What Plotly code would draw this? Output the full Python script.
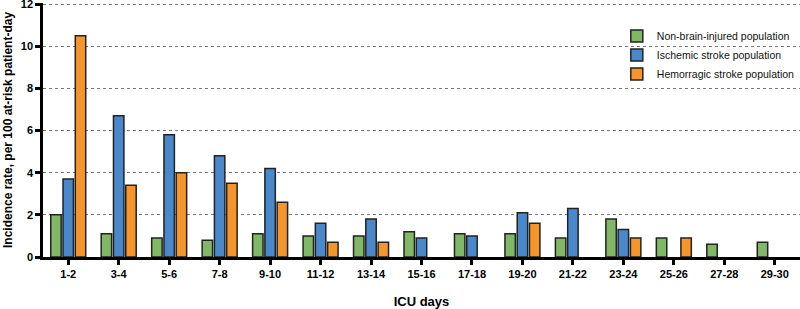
import plotly.graph_objects as go

categories = ["1-2", "3-4", "5-6", "7-8", "9-10", "11-12", "13-14", "15-16",
              "17-18", "19-20", "21-22", "23-24", "25-26", "27-28", "29-30"]
non_brain = [2.0, 1.1, 0.9, 0.8, 1.1, 1.0, 1.0, 1.2, 1.1, 1.1, 0.9, 1.8, 0.9, 0.6, 0.7]
ischemic = [3.7, 6.7, 5.8, 4.8, 4.2, 1.6, 1.8, 0.9, 1.0, 2.1, 2.3, 1.3, None, None, None]
hemorrhagic = [10.5, 3.4, 4.0, 3.5, 2.6, 0.7, 0.7, None, None, 1.6, None, 0.9, 0.9, None, None]
y_ticks = [0, 2, 4, 6, 8, 10, 12]

series = [
    ("Non-brain-injured population", non_brain, "#80B866"),
    ("Ischemic stroke population", ischemic, "#4A88CC"),
    ("Hemorragic stroke population", hemorrhagic, "#F5952A"),
]

FONT = "Liberation Sans, Arial, Helvetica, sans-serif"

fig = go.Figure()
for name, vals, col in series:
    fig.add_trace(go.Bar(
        x=categories, y=vals, name=name,
        marker=dict(color=col, line=dict(color="#222222", width=1.5)),
    ))

fig.update_layout(
    width=800, height=309,
    margin=dict(l=43, r=0, t=3, b=52, autoexpand=False),
    paper_bgcolor="white", plot_bgcolor="white",
    barmode="group", bargap=0.27, bargroupgap=0.15,
    font=dict(family=FONT, color="black"),
    showlegend=True,
    legend=dict(x=0.758, y=0.927, xanchor="left", yanchor="top",
                font=dict(size=10.5, family=FONT, color="#111111"),
                bgcolor="rgba(0,0,0,0)", tracegroupgap=0, traceorder="normal"),
    xaxis=dict(
        type="category", automargin=False,
        showline=True, linecolor="black", linewidth=2.5,
        ticks="outside", ticklen=5, tickwidth=2.5, tickcolor="black",
        tickfont=dict(size=11, family=FONT, weight="bold"),
        title=dict(text="<b>ICU days</b>", font=dict(size=13, family=FONT), standoff=18),
        showgrid=False, zeroline=False,
    ),
    yaxis=dict(
        automargin=False,
        range=[0, 12.05], tickvals=y_ticks,
        ticklabeloverflow="allow",
        showline=True, linecolor="black", linewidth=2.5,
        ticks="outside", ticklen=5, tickwidth=2.5, tickcolor="black",
        tickfont=dict(size=11, family=FONT, weight="bold"),
        title=dict(text="<b>Incidence rate, per 100 at-risk patient-day</b>",
                   font=dict(size=12, family=FONT), standoff=6),
        showgrid=True, gridcolor="#777777", gridwidth=1, griddash="dot",
        zeroline=False,
    ),
)

fig.write_html("out.html", config={"displayModeBar": False},
               post_script="document.body.style.margin='0';")
